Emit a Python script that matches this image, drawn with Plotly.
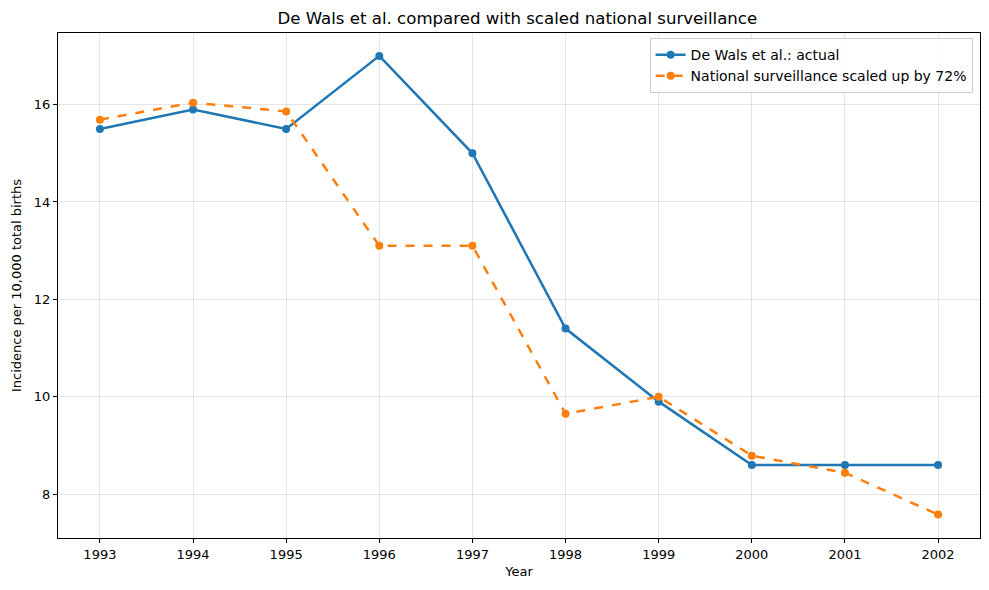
import plotly.graph_objects as go

years = [1993, 1994, 1995, 1996, 1997, 1998, 1999, 2000, 2001, 2002]
de_wals = [15.5, 15.9, 15.5, 17.0, 15.0, 11.4, 9.9, 8.6, 8.6, 8.6]
national_scaled = [15.69, 16.04, 15.86, 13.1, 13.1, 9.65, 10.0, 8.79, 8.44, 7.58]

fig = go.Figure()
fig.add_trace(go.Scatter(x=years, y=de_wals, mode="lines+markers",
                         name="De Wals et al.: actual",
                         line=dict(color="#1f77b4", width=2.5),
                         marker=dict(size=8, color="#1f77b4")))
fig.add_trace(go.Scatter(x=years, y=national_scaled, mode="lines+markers",
                         name="National surveillance scaled up by 72%",
                         line=dict(color="#ff7f0e", width=2.5, dash="dash"),
                         marker=dict(size=8, color="#ff7f0e")))

axis_common = dict(showline=True, linecolor="black", linewidth=1, mirror=True,
                   ticks="outside", ticklen=4, tickcolor="black",
                   showgrid=True, gridcolor="rgba(0,0,0,0.1)", gridwidth=1,
                   zeroline=False, automargin=False,
                   tickfont=dict(size=13, color="black"))

fig.update_layout(
    width=989, height=590,
    paper_bgcolor="white", plot_bgcolor="white",
    font=dict(family="DejaVu Sans", color="black", size=13),
    margin=dict(l=50, r=17, t=25, b=60, autoexpand=False),
    title=dict(text="De Wals et al. compared with scaled national surveillance",
               x=0.515, xanchor="center", y=0.983, yanchor="middle",
               font=dict(size=16.6, color="black")),
    xaxis=dict(title=dict(text="Year", font=dict(size=13), standoff=6),
               range=[1992.55, 2002.45], tickmode="array", tickvals=years,
               **axis_common),
    yaxis=dict(title=dict(text="Incidence per 10,000 total births", font=dict(size=13), standoff=9),
               range=[7.1, 17.47], tickvals=[8, 10, 12, 14, 16],
               **axis_common),
    legend=dict(x=0.992, y=0.99, xanchor="right", yanchor="top",
                bgcolor="rgba(255,255,255,0.8)", bordercolor="#cccccc", borderwidth=1,
                font=dict(size=14), tracegroupgap=0, itemwidth=30),
    showlegend=True,
)

fig.write_html("out.html")
